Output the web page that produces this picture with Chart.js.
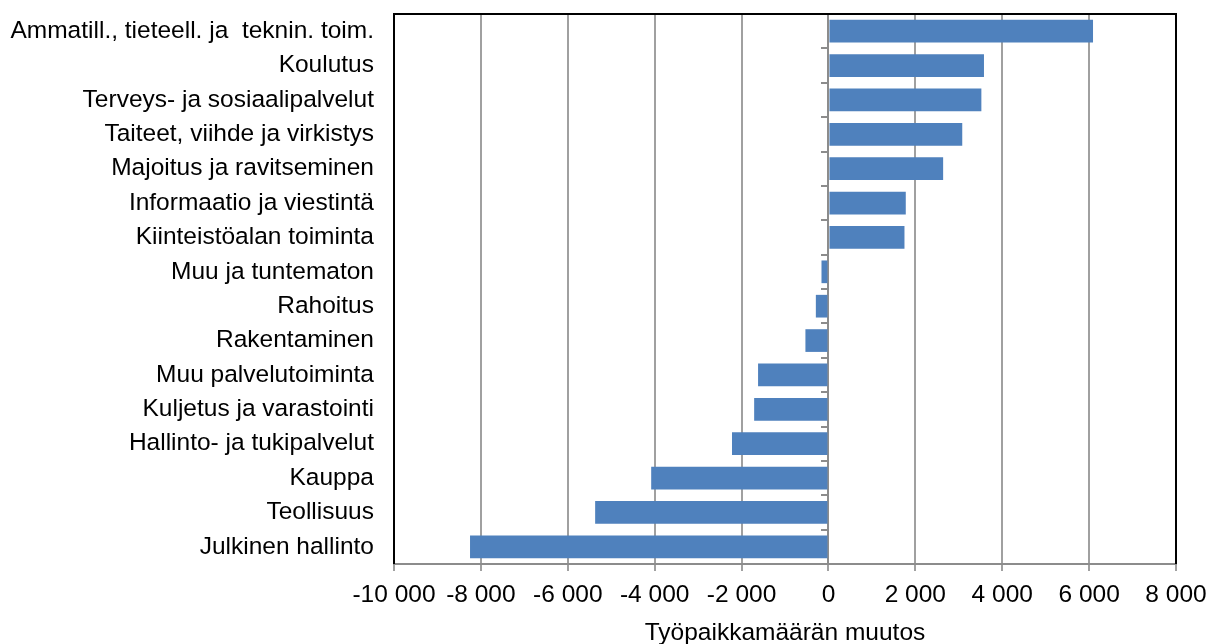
<!DOCTYPE html>
<html>
<head>
<meta charset="utf-8">
<script src="https://cdn.jsdelivr.net/npm/chart.js@4"></script>
<style>
    html, body { margin: 0; padding: 0; background: #fff; }
    #wrap { width: 1210px; height: 644px; }
</style>
</head>
<body>
<div id="wrap"><canvas id="chart" width="1210" height="644"></canvas></div>
<script>
const categories = [
    "Ammatill., tieteell. ja  teknin. toim.",
    "Koulutus",
    "Terveys- ja sosiaalipalvelut",
    "Taiteet, viihde ja virkistys",
    "Majoitus ja ravitseminen",
    "Informaatio ja viestintä",
    "Kiinteistöalan toiminta",
    "Muu ja tuntematon",
    "Rahoitus",
    "Rakentaminen",
    "Muu palvelutoiminta",
    "Kuljetus ja varastointi",
    "Hallinto- ja tukipalvelut",
    "Kauppa",
    "Teollisuus",
    "Julkinen hallinto"
];
const changes = [6090, 3580, 3520, 3080, 2640, 1780, 1750, -160, -290, -530, -1620, -1710, -2220, -4080, -5370, -8250];
const xMin = -10000;
const xMax = 8000;
const xStep = 2000;
const xTitle = "Työpaikkamäärän muutos";

const FONT = "'Liberation Sans', Arial";
const FSIZE = 24.5;

function fmt(v) {
    const s = String(Math.abs(v)).replace(/\B(?=(\d{3})+(?!\d))/g, " ");
    return (v < 0 ? "-" : "") + s;
}

// black frame on top, left and right of the plot area
const frame = {
    id: "frame",
    afterDraw(chart) {
        const a = chart.chartArea;
        const ctx = chart.ctx;
        ctx.save();
        ctx.strokeStyle = "#000";
        ctx.lineWidth = 2;
        ctx.beginPath();
        ctx.moveTo(a.left, a.bottom);
        ctx.lineTo(a.left, a.top);
        ctx.lineTo(a.right, a.top);
        ctx.lineTo(a.right, a.bottom);
        ctx.stroke();
        ctx.restore();
    }
};

new Chart(document.getElementById("chart"), {
    type: "bar",
    data: {
        labels: categories,
        datasets: [{
            data: changes,
            backgroundColor: "#4F81BD",
            borderWidth: 0,
            barPercentage: 0.66,
            categoryPercentage: 1
        }]
    },
    options: {
        indexAxis: "y",
        responsive: false,
        animation: false,
        layout: { padding: { top: 14, right: 34, left: 0, bottom: 0 } },
        plugins: { legend: { display: false }, tooltip: { enabled: false } },
        scales: {
            x: {
                min: xMin,
                max: xMax,
                ticks: {
                    stepSize: xStep,
                    color: "#000",
                    font: { family: FONT, size: FSIZE },
                    padding: 10,
                    maxRotation: 0,
                    callback: v => fmt(v)
                },
                grid: { color: "#a0a0a0", lineWidth: 2, tickLength: 7, drawTicks: true },
                border: { color: "#8c8c8c", width: 2 },
                title: {
                    display: true,
                    text: xTitle,
                    color: "#000",
                    font: { family: FONT, size: FSIZE },
                    padding: { top: 4, bottom: -4 }
                },
                afterFit: s => { s.height = 80; s.paddingLeft = 0; s.paddingRight = 0; }
            },
            y: {
                ticks: {
                    color: "#000",
                    font: { family: FONT, size: FSIZE },
                    padding: 20,
                    autoSkip: false
                },
                grid: { display: false, drawTicks: false },
                border: { display: false },
                afterFit: s => { s.width = 394; s.paddingTop = 0; s.paddingBottom = 0; }
            },
            y0: {
                type: "category",
                position: { x: 0 },
                ticks: { display: false },
                grid: { offset: true, drawOnChartArea: false, color: "#8c8c8c", lineWidth: 2, tickLength: 6 },
                border: { color: "#8c8c8c", width: 2 }
            }
        }
    },
    plugins: [frame]
});
</script>
</body>
</html>
